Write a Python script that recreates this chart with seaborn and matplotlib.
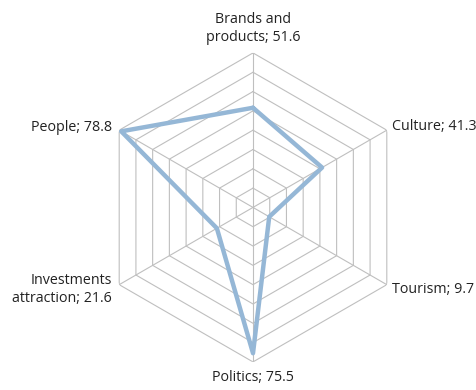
import numpy as np
import pandas as pd
import seaborn as sns
from matplotlib import pyplot as plt

# categories clockwise from the top
categories = ['Brands and\nproducts', 'Culture', 'Tourism', 'Politics', 'Investments\nattraction', 'People']
values = [51.6, 41.3, 9.7, 75.5, 21.6, 78.8]
ring_levels = [10, 20, 30, 40, 50, 60, 70, 80]

sns.set_style('white')
plt.rcParams['font.family'] = ['Open Sans', 'DejaVu Sans']

angles = np.linspace(0, 2 * np.pi, len(categories), endpoint=False)
closed_angles = np.append(angles, angles[0])

df = pd.DataFrame({'angle': closed_angles, 'value': values + values[:1]})

fig = plt.figure(figsize=(4.77, 3.90), dpi=100)
ax = fig.add_axes([0.2065, 0.072, 0.6478, 0.7923], projection='polar')
ax.set_theta_offset(np.pi / 2)
ax.set_theta_direction(-1)

# hexagonal grid
for lvl in ring_levels:
    ax.plot(closed_angles, [lvl] * len(closed_angles), color='#BFBFBF', lw=0.8, zorder=1)
for a in angles:
    ax.plot([a, a], [0, ring_levels[-1]], color='#BFBFBF', lw=0.8, zorder=1)

sns.lineplot(data=df, x='angle', y='value', sort=False, estimator=None,
             color='#95B7D6', lw=3.2, ax=ax, zorder=3)

ax.set_ylim(0, ring_levels[-1])
ax.grid(False)
ax.spines['polar'].set_visible(False)
ax.set_xticks([])
ax.set_yticks([])
ax.set_xlabel('')
ax.set_ylabel('')

# category labels
label_style = [
    ((0, 8), 'center', 'bottom'),
    ((5, 4), 'left', 'center'),
    ((5, -5), 'left', 'center'),
    ((0, -8), 'center', 'top'),
    ((-7, -5), 'right', 'center'),
    ((-7, 3), 'right', 'center'),
]
for a, name, v, (off, ha, va) in zip(angles, categories, values, label_style):
    ax.annotate(f'{name}; {v}', xy=(a, ring_levels[-1]), xytext=off,
                textcoords='offset pixels', ha=ha, va=va, fontsize=10.3,
                color='#222222', linespacing=1.25, annotation_clip=False)

fig.savefig('out.png', dpi=100)
